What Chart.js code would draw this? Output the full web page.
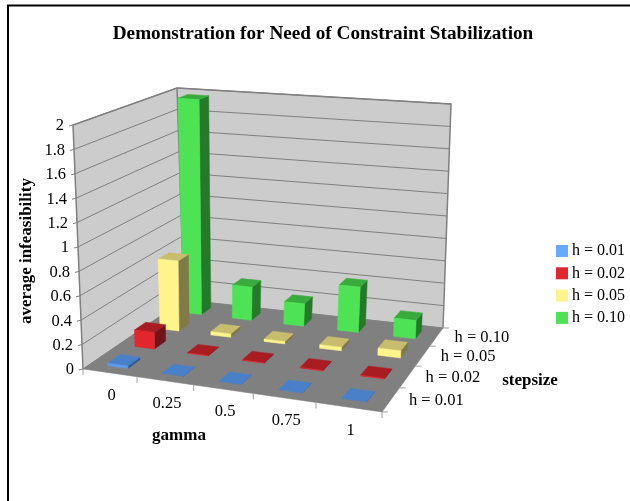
<!DOCTYPE html>
<html><head><meta charset="utf-8">
<style>html,body{margin:0;padding:0;background:#fff}canvas{display:block}</style>
<script src="https://cdn.jsdelivr.net/npm/chart.js@4"></script>
</head><body><canvas id="c" width="630" height="501"></canvas>
<script>
const gammaLabels = ['0','0.25','0.5','0.75','1'];
const stepsizeLabels = ['h = 0.01','h = 0.02','h = 0.05','h = 0.10'];
const h001 = [0.02,0,0,0,0];
const h002 = [0.14,0.005,0.005,0.005,0.005];
const h005 = [0.62,0.03,0.02,0.03,0.06];
const h010 = [1.97,0.3,0.2,0.4,0.16];
const chartTitle = 'Demonstration for Need of Constraint Stabilization';
const yTitle = 'average infeasibility', xTitle = 'gamma', zTitle = 'stepsize';
const faceColors = ['#5b9be8','#e1262e','#fff38c','#4de354'];
const topColors  = ['#4a80c8','#a81c22','#c8bd6c','#38ab3c'];
const sideColors = ['#2f5a94','#6f1418','#7f7a48','#257a2a'];
const legendColors = ['#66aaff','#e1262e','#fff38c','#4de354'];
const FONT = '"Liberation Serif","Times New Roman",serif';

function quadMap(p0,p1,p2,p3){
  const dx1=p1[0]-p2[0],dx2=p3[0]-p2[0],sx=p0[0]-p1[0]+p2[0]-p3[0];
  const dy1=p1[1]-p2[1],dy2=p3[1]-p2[1],sy=p0[1]-p1[1]+p2[1]-p3[1];
  const den=dx1*dy2-dx2*dy1;
  const g=(sx*dy2-dx2*sy)/den,h=(dx1*sy-sx*dy1)/den;
  const a=p1[0]-p0[0]+g*p1[0],b=p3[0]-p0[0]+h*p3[0],c=p0[0];
  const d=p1[1]-p0[1]+g*p1[1],e=p3[1]-p0[1]+h*p3[1],f=p0[1];
  return (u,v)=>{const w=g*u+h*v+1;return [(a*u+b*v+c)/w,(d*u+e*v+f)/w];};
}
// camera calibration: u along gamma, v along stepsize (0 front, 1 back), t along height
const floorMap = quadMap([83,369],[382,412],[443,328],[184,300]);
const ceilMap  = quadMap([73,125],[392,144],[451,104],[177,88]);
function proj(u,v,t){
  const a=floorMap(u,v),b=ceilMap(u,v);
  return [a[0]+(b[0]-a[0])*t,a[1]+(b[1]-a[1])*t];
}
function poly(ctx,pts,fill,stroke,lw){
  ctx.beginPath();pts.forEach((p,i)=>i?ctx.lineTo(p[0],p[1]):ctx.moveTo(p[0],p[1]));ctx.closePath();
  if(fill){ctx.fillStyle=fill;ctx.fill();}
  ctx.strokeStyle=stroke||fill;ctx.lineWidth=lw||0.5;ctx.stroke();
}
const fracY=(s,v)=>(s.bottom-s.getPixelForValue(v))/(s.bottom-s.top);
const fracX=(s,i)=>(s.getPixelForValue(i)-s.left)/(s.right-s.left);

class Bar3DController extends Chart.BarController {
  draw(){
    const meta=this.getMeta(),ctx=this.chart.ctx,k=this.index;
    const nz=stepsizeLabels.length;
    const vc=(k+0.5)/nz,dv=0.44/nz/2;
    const du=0.38/gammaLabels.length/2;
    ctx.save();
    this.getDataset().data.forEach((val,i)=>{
      const uc=fracX(meta.iScale,i),t=fracY(meta.vScale,val);
      const u0=uc-du,u1=uc+du,v0=vc-dv,v1=vc+dv;
      poly(ctx,[proj(u1,v0,0),proj(u1,v1,0),proj(u1,v1,t),proj(u1,v0,t)],sideColors[k]);
      poly(ctx,[proj(u0,v0,t),proj(u1,v0,t),proj(u1,v1,t),proj(u0,v1,t)],topColors[k]);
      if(val>0) poly(ctx,[proj(u0,v0,0),proj(u1,v0,0),proj(u1,v0,t),proj(u0,v0,t)],faceColors[k]);
    });
    ctx.restore();
  }
}
Bar3DController.id='bar3d';
Bar3DController.defaults=Chart.BarController.defaults;
Bar3DController.overrides=Chart.BarController.overrides;
Chart.register(Bar3DController);

const scene={
  id:'scene',
  beforeDraw(c){
    const x=c.ctx;x.save();
    x.fillStyle='#fff';x.fillRect(0,0,630,501);
    x.strokeStyle='#000';x.lineWidth=2;
    x.beginPath();x.moveTo(8,501);x.lineTo(8,5.5);x.lineTo(630,5.5);x.stroke();
    x.restore();
  },
  beforeDatasetsDraw(c){
    const x=c.ctx,ys=c.scales.y,xs=c.scales.x;x.save();
    poly(x,[proj(0,0,0),proj(0,1,0),proj(0,1,1),proj(0,0,1)],'#cccccc');
    poly(x,[proj(0,1,0),proj(1,1,0),proj(1,1,1),proj(0,1,1)],'#cccccc');
    poly(x,[proj(0,0,0),proj(1,0,0),proj(1,1,0),proj(0,1,0)],'#808080');
    x.strokeStyle='#808080';x.lineWidth=1;
    ys.ticks.forEach(tk=>{
      const t=fracY(ys,tk.value);
      const a=proj(0,0,t),b=proj(0,1,t),d=proj(1,1,t);
      x.beginPath();x.moveTo(a[0],a[1]);x.lineTo(b[0],b[1]);x.lineTo(d[0],d[1]);x.stroke();
      x.beginPath();x.moveTo(a[0]-4,a[1]+1);x.lineTo(a[0],a[1]);x.stroke();
      x.fillStyle='#000';x.font='16.5px '+FONT;x.textAlign='right';x.textBaseline='middle';
      x.fillText(String(Math.round(tk.value*10)/10),a[0]-9,a[1]+1);
    });
    x.strokeStyle='#808080';x.lineWidth=1.5;
    [[proj(0,0,0),proj(0,0,1),proj(0,1,1),proj(1,1,1),proj(1,1,0)],[proj(0,1,0),proj(0,1,1)]].forEach(l=>{
      x.beginPath();l.forEach((p,i)=>i?x.lineTo(p[0],p[1]):x.moveTo(p[0],p[1]));x.stroke();
    });
    x.lineWidth=1;x.strokeStyle='#a0a0a0';
    for(let i=0;i<=gammaLabels.length;i++){
      const p=proj(i/gammaLabels.length,0,0);
      x.beginPath();x.moveTo(p[0],p[1]);x.lineTo(p[0],p[1]+6);x.stroke();
    }
    for(let j=0;j<=stepsizeLabels.length;j++){
      const p=proj(1,j/stepsizeLabels.length,0);
      x.beginPath();x.moveTo(p[0],p[1]);x.lineTo(p[0]+6,p[1]);x.stroke();
    }
    x.fillStyle='#000';x.font='16.5px '+FONT;x.textBaseline='middle';x.textAlign='center';
    gammaLabels.forEach((l,i)=>{
      const p=proj(fracX(xs,i),0,0);x.fillText(l,p[0]+2,p[1]+23);
    });
    x.textAlign='left';
    stepsizeLabels.forEach((l,j)=>{
      const p=proj(1,(j+0.5)/stepsizeLabels.length,0);x.fillText(l,p[0]+18,p[1]+1);
    });
    x.font='bold 17px '+FONT;x.textAlign='center';
    x.fillText(xTitle,179,436);
    x.fillText(zTitle,530,381);
    x.save();x.translate(27,251);x.rotate(-Math.PI/2);x.fillText(yTitle,0,0);x.restore();
    x.restore();
  },
  afterDraw(c){
    const x=c.ctx;x.save();
    x.font='16px '+FONT;x.textAlign='left';x.textBaseline='middle';
    stepsizeLabels.forEach((l,j)=>{
      const cy=251+j*22.3;
      x.fillStyle=legendColors[j];x.fillRect(556,cy-6,12,12);
      x.fillStyle='#000';x.fillText(l,572,cy);
    });
    x.restore();
  }
};

new Chart(document.getElementById('c'),{
  type:'bar3d',
  data:{labels:gammaLabels,datasets:[
    {label:stepsizeLabels[0],data:h001,backgroundColor:faceColors[0]},
    {label:stepsizeLabels[1],data:h002,backgroundColor:faceColors[1]},
    {label:stepsizeLabels[2],data:h005,backgroundColor:faceColors[2]},
    {label:stepsizeLabels[3],data:h010,backgroundColor:faceColors[3]}
  ]},
  options:{
    responsive:false,animation:false,
    layout:{padding:{left:16,right:0,top:0,bottom:0}},
    plugins:{
      legend:{display:false},tooltip:{enabled:false},
      title:{display:true,text:chartTitle,color:'#000',font:{family:FONT,size:19.2,weight:'bold'},padding:{top:23,bottom:10},position:'top'}
    },
    scales:{
      x:{type:'category',display:false,offset:true},
      y:{type:'linear',display:false,min:0,max:2,ticks:{stepSize:0.2}}
    }
  },
  plugins:[scene]
});
</script></body></html>
